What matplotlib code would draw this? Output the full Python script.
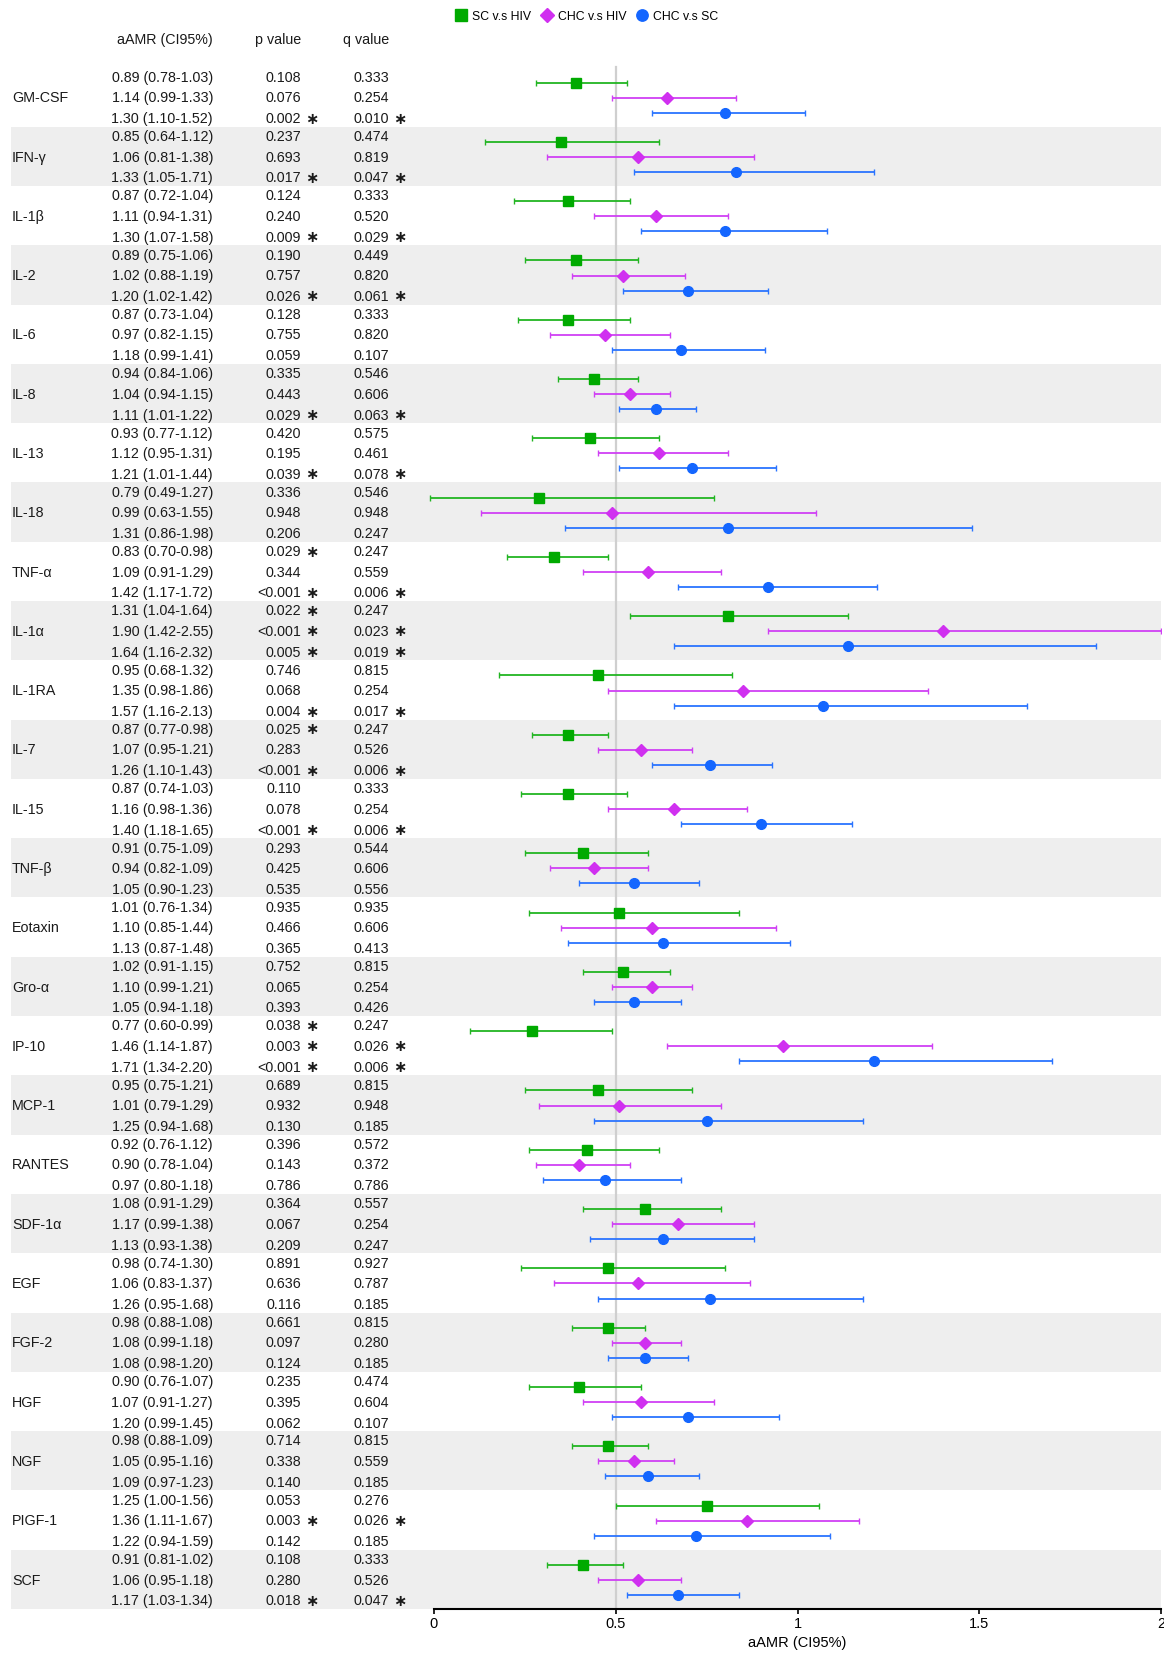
import numpy as np
import matplotlib.pyplot as plt
from matplotlib.lines import Line2D
from matplotlib.transforms import blended_transform_factory

plt.rcParams['font.family'] = ['Liberation Sans', 'DejaVu Sans']

cytokines = ['GM-CSF', 'IFN-γ', 'IL-1β', 'IL-2', 'IL-6', 'IL-8', 'IL-13', 'IL-18',
             'TNF-α', 'IL-1α', 'IL-1RA', 'IL-7', 'IL-15', 'TNF-β', 'Eotaxin', 'Gro-α',
             'IP-10', 'MCP-1', 'RANTES', 'SDF-1α', 'EGF', 'FGF-2', 'HGF', 'NGF',
             'PIGF-1', 'SCF']

series_names = ['SC v.s HIV', 'CHC v.s HIV', 'CHC v.s SC']

# SC v.s HIV
sc_hiv_est = [0.89, 0.85, 0.87, 0.89, 0.87, 0.94, 0.93, 0.79, 0.83, 1.31, 0.95, 0.87, 0.87,
              0.91, 1.01, 1.02, 0.77, 0.95, 0.92, 1.08, 0.98, 0.98, 0.90, 0.98, 1.25, 0.91]
sc_hiv_lo = [0.78, 0.64, 0.72, 0.75, 0.73, 0.84, 0.77, 0.49, 0.70, 1.04, 0.68, 0.77, 0.74,
             0.75, 0.76, 0.91, 0.60, 0.75, 0.76, 0.91, 0.74, 0.88, 0.76, 0.88, 1.00, 0.81]
sc_hiv_hi = [1.03, 1.12, 1.04, 1.06, 1.04, 1.06, 1.12, 1.27, 0.98, 1.64, 1.32, 0.98, 1.03,
             1.09, 1.34, 1.15, 0.99, 1.21, 1.12, 1.29, 1.30, 1.08, 1.07, 1.09, 1.56, 1.02]
sc_hiv_p = ['0.108', '0.237', '0.124', '0.190', '0.128', '0.335', '0.420', '0.336', '0.029*',
            '0.022*', '0.746', '0.025*', '0.110', '0.293', '0.935', '0.752', '0.038*', '0.689',
            '0.396', '0.364', '0.891', '0.661', '0.235', '0.714', '0.053', '0.108']
sc_hiv_q = ['0.333', '0.474', '0.333', '0.449', '0.333', '0.546', '0.575', '0.546', '0.247',
            '0.247', '0.815', '0.247', '0.333', '0.544', '0.935', '0.815', '0.247', '0.815',
            '0.572', '0.557', '0.927', '0.815', '0.474', '0.815', '0.276', '0.333']

# CHC v.s HIV
chc_hiv_est = [1.14, 1.06, 1.11, 1.02, 0.97, 1.04, 1.12, 0.99, 1.09, 1.90, 1.35, 1.07, 1.16,
               0.94, 1.10, 1.10, 1.46, 1.01, 0.90, 1.17, 1.06, 1.08, 1.07, 1.05, 1.36, 1.06]
chc_hiv_lo = [0.99, 0.81, 0.94, 0.88, 0.82, 0.94, 0.95, 0.63, 0.91, 1.42, 0.98, 0.95, 0.98,
              0.82, 0.85, 0.99, 1.14, 0.79, 0.78, 0.99, 0.83, 0.99, 0.91, 0.95, 1.11, 0.95]
chc_hiv_hi = [1.33, 1.38, 1.31, 1.19, 1.15, 1.15, 1.31, 1.55, 1.29, 2.55, 1.86, 1.21, 1.36,
              1.09, 1.44, 1.21, 1.87, 1.29, 1.04, 1.38, 1.37, 1.18, 1.27, 1.16, 1.67, 1.18]
chc_hiv_p = ['0.076', '0.693', '0.240', '0.757', '0.755', '0.443', '0.195', '0.948', '0.344',
             '<0.001*', '0.068', '0.283', '0.078', '0.425', '0.466', '0.065', '0.003*', '0.932',
             '0.143', '0.067', '0.636', '0.097', '0.395', '0.338', '0.003*', '0.280']
chc_hiv_q = ['0.254', '0.819', '0.520', '0.820', '0.820', '0.606', '0.461', '0.948', '0.559',
             '0.023*', '0.254', '0.526', '0.254', '0.606', '0.606', '0.254', '0.026*', '0.948',
             '0.372', '0.254', '0.787', '0.280', '0.604', '0.559', '0.026*', '0.526']

# CHC v.s SC
chc_sc_est = [1.30, 1.33, 1.30, 1.20, 1.18, 1.11, 1.21, 1.31, 1.42, 1.64, 1.57, 1.26, 1.40,
              1.05, 1.13, 1.05, 1.71, 1.25, 0.97, 1.13, 1.26, 1.08, 1.20, 1.09, 1.22, 1.17]
chc_sc_lo = [1.10, 1.05, 1.07, 1.02, 0.99, 1.01, 1.01, 0.86, 1.17, 1.16, 1.16, 1.10, 1.18,
             0.90, 0.87, 0.94, 1.34, 0.94, 0.80, 0.93, 0.95, 0.98, 0.99, 0.97, 0.94, 1.03]
chc_sc_hi = [1.52, 1.71, 1.58, 1.42, 1.41, 1.22, 1.44, 1.98, 1.72, 2.32, 2.13, 1.43, 1.65,
             1.23, 1.48, 1.18, 2.20, 1.68, 1.18, 1.38, 1.68, 1.20, 1.45, 1.23, 1.59, 1.34]
chc_sc_p = ['0.002*', '0.017*', '0.009*', '0.026*', '0.059', '0.029*', '0.039*', '0.206',
            '<0.001*', '0.005*', '0.004*', '<0.001*', '<0.001*', '0.535', '0.365', '0.393',
            '<0.001*', '0.130', '0.786', '0.209', '0.116', '0.124', '0.062', '0.140', '0.142',
            '0.018*']
chc_sc_q = ['0.010*', '0.047*', '0.029*', '0.061*', '0.107', '0.063*', '0.078*', '0.247',
            '0.006*', '0.019*', '0.017*', '0.006*', '0.006*', '0.556', '0.413', '0.426',
            '0.006*', '0.185', '0.786', '0.247', '0.185', '0.185', '0.107', '0.185', '0.185',
            '0.047*']

OFFSET = 0.5  # the plot axis is shifted: 0.5 on the axis = aAMR of 1

series = [
    (sc_hiv_est, sc_hiv_lo, sc_hiv_hi, sc_hiv_p, sc_hiv_q, 's', '#00aa00', '#22b522', 7.2),
    (chc_hiv_est, chc_hiv_lo, chc_hiv_hi, chc_hiv_p, chc_hiv_q, 'D', '#d030f0', '#d040f4', 6.0),
    (chc_sc_est, chc_sc_lo, chc_sc_hi, chc_sc_p, chc_sc_q, 'o', '#1466ff', '#2a74ff', 7.0),
]

W, H = 1164, 1659
fig = plt.figure(figsize=(W / 100, H / 100), dpi=100)

x0_px, x2_px = 434, 1161
ppu = (x2_px - x0_px) / 2
top_px, group_px, bottom_px = 67.4, 59.3, 1609
n = len(cytokines)

ax = fig.add_axes([0, (H - bottom_px) / H, x2_px / W, bottom_px / H])
ax.set_xlim(-x0_px / ppu, 2)
ytop = -top_px / group_px
ax.set_ylim(n, ytop)

# alternating grey bands
for k in range(1, n, 2):
    ax.axhspan(k, k + 1, xmin=11 / x2_px, xmax=1, color='#eeeeee', lw=0, zorder=0)

ax.axvline(OFFSET, ymin=0, ymax=n / (n - ytop), color='#cfcfcf', lw=1.6, zorder=1)

mark_off = [0.255, 0.51, 0.764]
text_off = [0.175, 0.52, 0.872]
idx = np.arange(n)
trans = blended_transform_factory(fig.transFigure, ax.transData)
fs = 10.3
tc = '#1a1a1a'

for j, (est, lo, hi, pv, qv, mk, mc, lc, ms) in enumerate(series):
    est = np.array(est)
    lo = np.array(lo)
    hi = np.array(hi)
    xe = est - OFFSET
    xl = lo - OFFSET
    xh = np.minimum(hi - OFFSET, 2.0)
    ax.errorbar(xe, idx + mark_off[j], xerr=[xe - xl, xh - xe], fmt='none',
                ecolor=lc, elinewidth=1.3, capsize=2.2, capthick=1.0, zorder=2)
    ax.plot(xe, idx + mark_off[j], ls='none', marker=mk, color=mc, ms=ms, zorder=3)

    for i in range(n):
        y = i + text_off[j]
        ax.text(213 / W, y, f'{est[i]:.2f} ({lo[i]:.2f}-{hi[i]:.2f})', transform=trans,
                ha='right', va='center', fontsize=fs, color=tc)
        p = pv[i]
        q = qv[i]
        ax.text(301 / W, y, p.rstrip('*'), transform=trans, ha='right', va='center',
                fontsize=fs, color=tc)
        ax.text(389 / W, y, q.rstrip('*'), transform=trans, ha='right', va='center',
                fontsize=fs, color=tc)
        if p.endswith('*'):
            ax.text(312 / W, y, '∗', transform=trans, ha='center', va='center',
                    fontsize=11.5, fontweight='bold', family='DejaVu Sans', color=tc)
        if q.endswith('*'):
            ax.text(400 / W, y, '∗', transform=trans, ha='center', va='center',
                    fontsize=11.5, fontweight='bold', family='DejaVu Sans', color=tc)

for i, name in enumerate(cytokines):
    ax.text(12 / W, i + 0.52, name, transform=trans, ha='left', va='center',
            fontsize=fs, color=tc)

yh = (40.5 - top_px) / group_px
ax.text(213 / W, yh, 'aAMR (CI95%)', transform=trans, ha='right', va='center', fontsize=fs, color=tc)
ax.text(301 / W, yh, 'p value', transform=trans, ha='right', va='center', fontsize=fs, color=tc)
ax.text(389 / W, yh, 'q value', transform=trans, ha='right', va='center', fontsize=fs, color=tc)

# axis
for s in ['top', 'right', 'left']:
    ax.spines[s].set_visible(False)
ax.spines['bottom'].set_bounds(0, 2)
ax.spines['bottom'].set_linewidth(1.5)
ax.set_yticks([])
ax.set_xticks([0, 0.5, 1, 1.5, 2])
ax.set_xticklabels(['0', '0.5', '1', '1.5', '2'])
ax.tick_params(axis='x', direction='out', length=3.5, width=1.2, pad=2, labelsize=10.5)
ax.set_xlabel('aAMR (CI95%)', fontsize=10.5)
ax.xaxis.set_label_coords((x0_px + ppu) / x2_px, -(1636 - bottom_px) / bottom_px)

handles = [Line2D([], [], ls='none', marker=s[5], color=s[6], ms=s[8] + 1.2) for s in series]
fig.legend(handles, series_names, loc='center', bbox_to_anchor=(587 / W, 1 - 16.5 / H),
           ncol=3, frameon=False, fontsize=8.8, handlelength=0.8, handletextpad=0.5,
           columnspacing=0.9, borderaxespad=0)

fig.savefig('out.png', dpi=100)
